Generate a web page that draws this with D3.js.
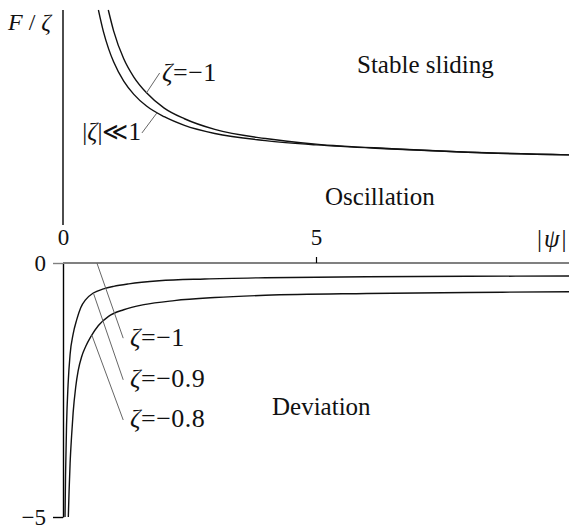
<!DOCTYPE html>
<html>
<head>
<meta charset="utf-8">
<script src="https://cdn.jsdelivr.net/npm/d3@7"></script>
<style>
  body { margin: 0; background: #fff; }
  text { font-family: "Liberation Serif", "DejaVu Serif", serif; fill: #111; }
  .it { font-style: italic; }
</style>
</head>
<body>
<svg id="chart" width="574" height="531"></svg>
<script>
// Upper panel: F/zeta boundary curves, [psi, F/zeta]
var curveZetaMinus1 = [
  [0.895, 4.29], [1.0, 3.88], [1.2, 3.33], [1.4, 2.97], [1.65, 2.66],
  [2.0, 2.36], [2.4, 2.15], [3.0, 1.94], [4.0, 1.76], [5.0, 1.65],
  [6.5, 1.56], [8.0, 1.49], [10.0, 1.44]
];
var curveZetaSmall = [
  [0.70, 4.29], [0.8, 3.86], [0.9, 3.53], [1.0, 3.27], [1.2, 2.89],
  [1.4, 2.63], [1.65, 2.40], [2.0, 2.19], [2.4, 2.02], [3.0, 1.86],
  [4.0, 1.72], [5.0, 1.635], [6.5, 1.555], [8.0, 1.49], [10.0, 1.44]
];

// Lower panel: deviation curves, [psi, F]
var curveZeta09 = [
  [0.04, -5.0], [0.05, -4.2], [0.07, -3.2], [0.1, -2.4], [0.14, -1.8],
  [0.2, -1.4], [0.27, -1.12], [0.35, -0.88], [0.45, -0.72], [0.6, -0.59],
  [0.8, -0.51], [1.0, -0.46], [1.3, -0.41], [1.9, -0.35], [2.8, -0.315],
  [4.0, -0.29], [6.0, -0.27], [8.0, -0.262], [10.0, -0.256]
];
var curveZeta08 = [
  [0.105, -5.0], [0.12, -4.5], [0.14, -3.95], [0.17, -3.4], [0.2, -2.95],
  [0.25, -2.45], [0.3, -2.12], [0.37, -1.84], [0.45, -1.64], [0.55, -1.45],
  [0.7, -1.23], [0.9, -1.05], [1.2, -0.92], [1.6, -0.82], [2.2, -0.74],
  [3.0, -0.68], [4.0, -0.635], [6.0, -0.60], [8.0, -0.58], [10.0, -0.565]
];
var curveZetaMinus1Bottom = [[0, 0], [10, 0]];

var xTicks = [0, 5];
var yTicksBottom = [0, -5];

var svg = d3.select("#chart");

var x = d3.scaleLinear().domain([0, 10]).range([63, 569]);
var yTop = d3.scaleLinear().domain([0, 4.29]).range([228, 10]);
var yBot = d3.scaleLinear().domain([0, -5]).range([263, 517]);

var lineTop = d3.line()
  .x(function(d) { return x(d[0]); })
  .y(function(d) { return yTop(d[1]); })
  .curve(d3.curveMonotoneX);
var lineBot = d3.line()
  .x(function(d) { return x(d[0]); })
  .y(function(d) { return yBot(d[1]); })
  .curve(d3.curveMonotoneX);

// upper vertical axis
svg.append("line")
  .attr("x1", x(0)).attr("x2", x(0))
  .attr("y1", 10).attr("y2", 225)
  .attr("stroke", "#000").attr("stroke-width", 1.4);

// lower left axis
var gy = svg.append("g")
  .attr("transform", "translate(" + x(0) + ",0)")
  .call(d3.axisLeft(yBot).tickValues(yTicksBottom).tickSize(10).tickSizeOuter(0).tickPadding(7)
    .tickFormat(function(d) { return d < 0 ? "\u2212" + Math.abs(d) : d; }));
gy.select(".domain").attr("stroke", "#000").attr("stroke-width", 1.4);
gy.selectAll(".tick line").attr("stroke-width", 1.4)
  .attr("stroke", function(d) { return d === 0 ? "#808080" : "#000"; });
gy.selectAll(".tick text")
  .style("font-family", "Liberation Serif").style("font-size", "23px").attr("fill", "#111");

// zeta = -1 in the lower panel (F = 0)
svg.append("path").datum(curveZetaMinus1Bottom)
  .attr("d", lineBot).attr("fill", "none")
  .attr("stroke", "#808080").attr("stroke-width", 2);

// tick labels on the psi axis
var gx = svg.append("g")
  .attr("transform", "translate(0," + yBot(0) + ")")
  .call(d3.axisTop(x).tickValues(xTicks).tickSize(6).tickSizeOuter(0).tickPadding(12));
gx.select(".domain").remove();
gx.selectAll(".tick line").attr("stroke", "#000").attr("stroke-width", 1.2)
  .attr("display", function(d) { return d === 0 ? "none" : null; });
gx.selectAll(".tick text")
  .style("font-family", "Liberation Serif").style("font-size", "23px").attr("fill", "#111");

// curves
[curveZetaMinus1, curveZetaSmall].forEach(function(c) {
  svg.append("path").datum(c).attr("d", lineTop)
    .attr("fill", "none").attr("stroke", "#111").attr("stroke-width", 1.4);
});
[curveZeta09, curveZeta08].forEach(function(c) {
  svg.append("path").datum(c).attr("d", lineBot)
    .attr("fill", "none").attr("stroke", "#111").attr("stroke-width", 1.4);
});

// leader lines
var leadersTop = [
  [[1.65, 2.66], [1.91, 3.05]],
  [[1.86, 2.27], [1.56, 1.87]]
];
var leadersBot = [
  [[0.67, 0], [1.19, -1.48]],
  [[0.60, -0.59], [1.19, -2.30]],
  [[0.57, -1.42], [1.19, -3.09]]
];
leadersTop.forEach(function(l) {
  svg.append("line")
    .attr("x1", x(l[0][0])).attr("y1", yTop(l[0][1]))
    .attr("x2", x(l[1][0])).attr("y2", yTop(l[1][1]))
    .attr("stroke", "#666").attr("stroke-width", 1);
});
leadersBot.forEach(function(l) {
  svg.append("line")
    .attr("x1", x(l[0][0])).attr("y1", yBot(l[0][1]))
    .attr("x2", x(l[1][0])).attr("y2", yBot(l[1][1]))
    .attr("stroke", "#666").attr("stroke-width", 1);
});

function label(px, py, size, parts, anchor, spacing) {
  var t = svg.append("text").attr("x", px).attr("y", py)
    .attr("font-size", size).attr("text-anchor", anchor || "start")
    .attr("letter-spacing", spacing || 0);
  parts.forEach(function(p) {
    t.append("tspan").attr("class", p[1] ? "it" : null).text(p[0]);
  });
  return t;
}

label(8, 30, 24, [["F", true], [" / ", false], ["\u03b6", true]]);
label(537, 247, 25, [["|", false], ["\u03c8", true], ["|", false]], "start", 2);
label(162, 81, 26, [["\u03b6", true], ["=\u22121", false]], "start", 0.5);
label(141, 140, 25, [["|", false], ["\u03b6", true], ["|\u226a1", false]], "end");
label(357, 73, 25, [["Stable sliding", false]]);
label(325, 205, 25, [["Oscillation", false]]);
label(272, 415, 25, [["Deviation", false]]);
label(130, 346, 26, [["\u03b6", true], ["=\u22121", false]], "start", 0.5);
label(130, 387, 26, [["\u03b6", true], ["=\u22120.9", false]], "start", 0.5);
label(130, 427, 26, [["\u03b6", true], ["=\u22120.8", false]], "start", 0.5);
</script>
</body>
</html>
